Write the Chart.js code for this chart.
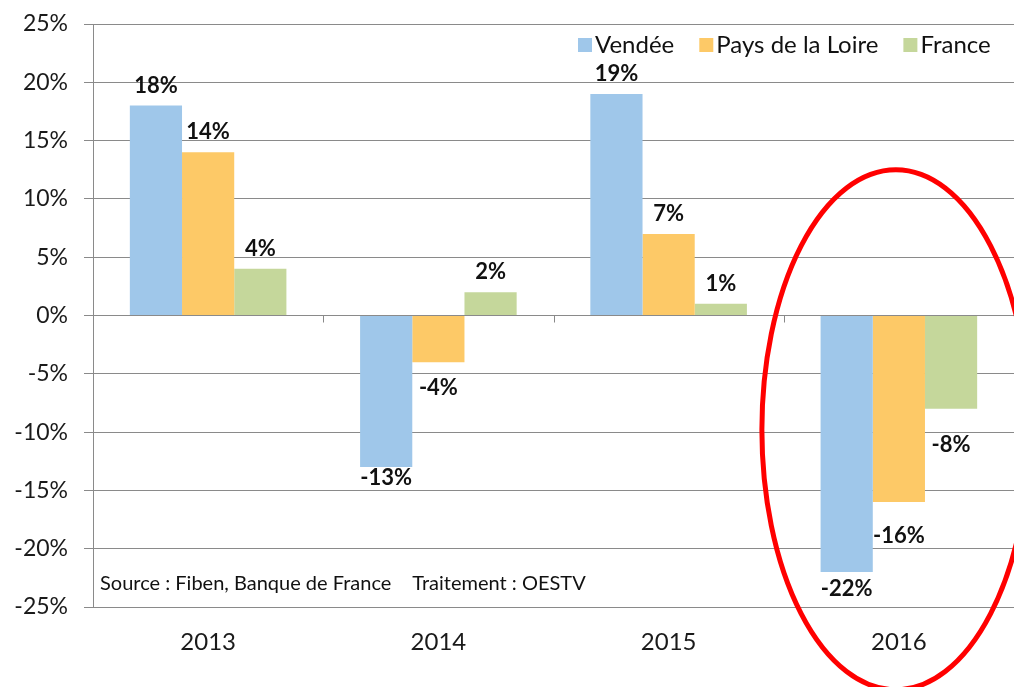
<!DOCTYPE html>
<html lang="fr">
<head>
  <meta charset="UTF-8">
  <title>Évolution - Vendée, Pays de la Loire, France</title>
  <script src="https://cdn.jsdelivr.net/npm/chart.js"></script>
  <style>
    html, body { margin: 0; padding: 0; background: #fff; overflow: hidden; }
    canvas { display: block; }
  </style>
</head>
<body>
  <canvas id="chart" width="1014" height="687"></canvas>

  <script>
    // Données
    const years = ['2013', '2014', '2015', '2016'];
    const vendee = [18, -13, 19, -22];
    const paysLoire = [14, -4, 7, -16];
    const france = [4, 2, 1, -8];
    const seriesNames = ['Vendée', 'Pays de la Loire', 'France'];
    const seriesColors = ['#9fc7ea', '#fdc967', '#c5d79b'];
    const yTicks = [-25, -20, -15, -10, -5, 0, 5, 10, 15, 20, 25];
    const sourceParts = ['Source : Fiben, Banque de France', 'Traitement : OESTV'];

    // décalage (px) des étiquettes négatives, comme placées à la main dans l'original
    const negLabelGap = [
      [0, 0, 0, 6],
      [0, 15, 0, 23],
      [0, 0, 0, 25]
    ];

    const FONT = 'Lato, "Open Sans", sans-serif';

    // étiquettes de valeurs, légende, source, ellipse rouge
    const extras = {
      id: 'extras',
      afterDatasetsDraw(chart) {
        const ctx = chart.ctx;
        const x = chart.scales.x, y = chart.scales.y;
        const area = chart.chartArea;
        const zeroY = y.getPixelForValue(0);

        ctx.save();
        // petits traits entre les catégories sur l'axe 0
        ctx.strokeStyle = '#888';
        ctx.lineWidth = 1;
        for (let i = 1; i < years.length; i++) {
          const px = Math.round((x.getPixelForValue(i - 1) + x.getPixelForValue(i)) / 2) + 0.5;
          ctx.beginPath();
          ctx.moveTo(px, zeroY);
          ctx.lineTo(px, zeroY + 7);
          ctx.stroke();
        }

        // valeurs
        ctx.font = 'bold 22px ' + FONT;
        ctx.fillStyle = '#111';
        ctx.textAlign = 'center';
        chart.data.datasets.forEach((ds, di) => {
          chart.getDatasetMeta(di).data.forEach((bar, i) => {
            const v = ds.data[i];
            if (v >= 0) {
              ctx.textBaseline = 'alphabetic';
              ctx.fillText(v + '%', bar.x, bar.y - 13);
            } else {
              ctx.textBaseline = 'top';
              ctx.fillText(v + '%', bar.x, bar.y + negLabelGap[di][i]);
            }
          });
        });

        // légende
        ctx.font = '24px ' + FONT;
        ctx.textBaseline = 'middle';
        ctx.textAlign = 'left';
        let lx = 578;
        const ly = 45;
        seriesNames.forEach((name, i) => {
          ctx.fillStyle = seriesColors[i];
          ctx.fillRect(lx, ly - 7, 14, 14);
          ctx.fillStyle = '#111';
          ctx.fillText(name, lx + 17, ly);
          lx += 17 + ctx.measureText(name).width + 25;
        });

        // source
        ctx.font = '20px ' + FONT;
        ctx.fillStyle = '#111';
        const sy = y.getPixelForValue(-23);
        ctx.fillText(sourceParts[0], area.left + 7, sy);
        ctx.fillText(sourceParts[1], area.left + 7 + ctx.measureText(sourceParts[0]).width + 21, sy);

        // ellipse autour de 2016
        const cx = x.getPixelForValue(3) - 3;
        const cy = y.getPixelForValue(-9.8);
        ctx.strokeStyle = '#ff0000';
        ctx.lineWidth = 5;
        ctx.beginPath();
        ctx.ellipse(cx, cy, 134, 260, 0, 0, Math.PI * 2);
        ctx.stroke();
        ctx.restore();
      }
    };

    new Chart(document.getElementById('chart'), {
      type: 'bar',
      data: {
        labels: years,
        datasets: [
          { label: seriesNames[0], data: vendee, backgroundColor: seriesColors[0] },
          { label: seriesNames[1], data: paysLoire, backgroundColor: seriesColors[1] },
          { label: seriesNames[2], data: france, backgroundColor: seriesColors[2] }
        ]
      },
      options: {
        responsive: false,
        animation: false,
        layout: { padding: { top: 24, right: 0, left: 0, bottom: 0 } },
        datasets: { bar: { categoryPercentage: 0.68, barPercentage: 1.0 } },
        plugins: { legend: { display: false }, tooltip: { enabled: false } },
        scales: {
          x: {
            grid: { display: false, drawTicks: false },
            border: { display: false },
            ticks: { color: '#1a1a1a', font: { family: FONT, size: 24 }, padding: 21, maxRotation: 0, autoSkip: false },
            afterFit(s) { s.height = 80; }
          },
          y: {
            min: -25, max: 25,
            afterBuildTicks(s) { s.ticks = yTicks.map(v => ({ value: v })); },
            grid: { color: '#8a8a8a', lineWidth: 1, tickLength: 9 },
            border: { color: '#8a8a8a' },
            ticks: {
              color: '#1a1a1a',
              font: { family: FONT, size: 23 },
              padding: 16,
              callback: v => v + '%'
            },
            afterFit(s) {
              s.width = 93;
              s.paddingTop = 0;
              s.paddingBottom = 0;
            }
          }
        }
      },
      plugins: [extras]
    });
  </script>
</body>
</html>
